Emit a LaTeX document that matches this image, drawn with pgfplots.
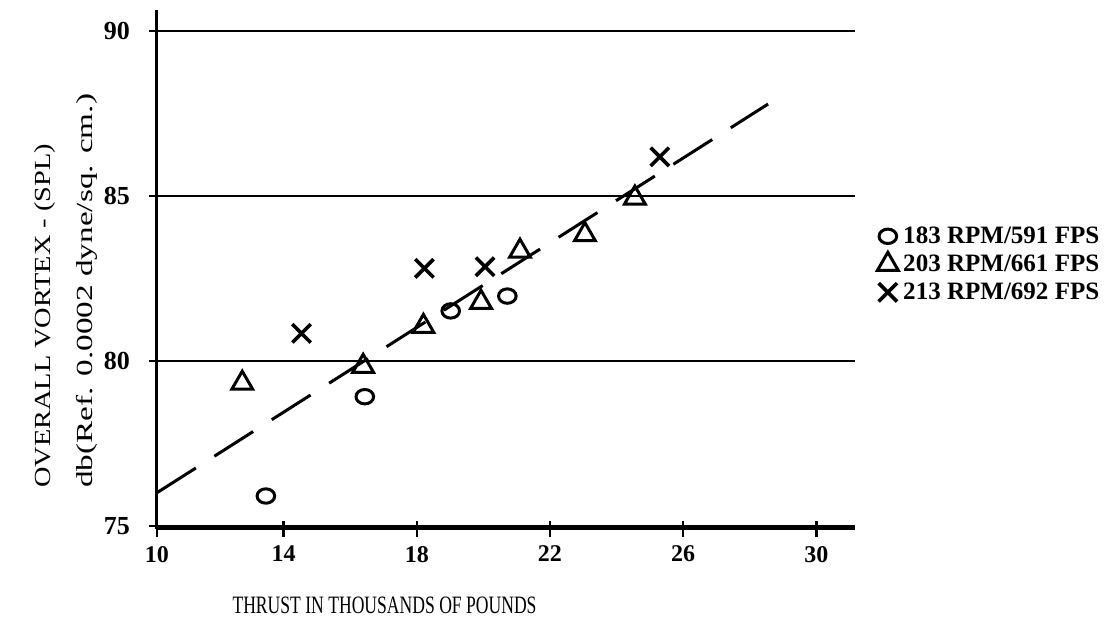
\documentclass[border=0pt]{standalone}
\usepackage{pgfplots}
\pgfplotsset{compat=1.18}
\usepackage{graphicx}
\usepackage{fontspec}
\setmainfont{Liberation Serif}

\begin{document}
\begin{tikzpicture}
% fixed page: 1px of the reference = 0.5pt, axis corner at px (157,529)
\path[use as bounding box] (-78.5pt,-45.5pt) rectangle (480pt,264.5pt);
\begin{axis}[
  scale only axis, width=349pt, height=259.5pt,
  xmin=10.2, xmax=31.16, ymin=74.91, ymax=90.64,
  axis x line=bottom, axis y line=left,
  axis line style={-, line width=1.5pt},
  xtick={10.2,14,18,22,26,30}, xticklabels={10,14,18,22,26,30},
  ytick={75,80,85,90}, yticklabels={75,80,85,90},
  tick align=center, major tick length=8pt,
  tick style={black, line width=1.2pt},
  ymajorgrids, grid style={black, line width=1.3pt},
  /pgf/number format/assume math mode=true,
  xticklabel style={font=\bfseries\fontsize{12}{12}\selectfont, anchor=north, yshift=-1pt},
  yticklabel style={font=\bfseries\fontsize{13}{13}\selectfont, anchor=east, xshift=-6pt},
  xlabel={\resizebox{152pt}{\height}{THRUST IN THOUSANDS OF POUNDS}},
  xlabel style={font=\fontsize{12.5}{12.5}\selectfont, inner sep=1pt, at={(axis description cs:0.326,-0.148)}, anchor=center},
  ylabel={\resizebox{172pt}{\height}{OVERALL VORTEX - (SPL)}\\\resizebox{197pt}{\height}{db(Ref. 0.0002 dyne/sq. cm.)}},
  ylabel style={font=\fontsize{11.5}{21}\selectfont, align=left, rotate=0,
    at={(axis description cs:-0.185,0.0655)}, anchor=north west},
  legend style={draw=none, fill=none, at={(axis description cs:1.023,0.51)}, anchor=west,
    font=\bfseries\fontsize{12.5}{13}\selectfont,
    nodes={inner sep=2.5pt, text height=8pt, text depth=1pt}, row sep=0pt},
  legend cell align=left,
]
\addplot[black, line width=1.5pt, dash pattern=on 23pt off 11pt, forget plot]
  coordinates {(10.2,76.01) (28.55,87.79)};
% 183 RPM / 591 FPS
\addplot[only marks, mark=o, mark size=4pt, mark options={line width=1.5pt, xscale=1.1, yscale=0.9}]
  coordinates {(13.47,75.91) (16.44,78.92) (19.02,81.52) (20.72,81.97)};
% 203 RPM / 661 FPS
\addplot[only marks, mark=triangle, mark size=6pt, mark options={line width=1.5pt}]
  coordinates {(12.76,79.33) (16.39,79.84) (18.2,81.05) (19.93,81.78) (21.1,83.33) (23.05,83.83) (24.55,84.94)};
% 213 RPM / 692 FPS
\addplot[only marks, mark=x, mark size=6.5pt, mark options={line width=1.8pt}]
  coordinates {(14.54,80.84) (18.23,82.81) (20.05,82.86) (25.3,86.19)};
\legend{\resizebox{98pt}{\height}{183 RPM/591 FPS},
        \resizebox{98pt}{\height}{203 RPM/661 FPS},
        \resizebox{98pt}{\height}{213 RPM/692 FPS}}
\end{axis}
\end{tikzpicture}
\end{document}
